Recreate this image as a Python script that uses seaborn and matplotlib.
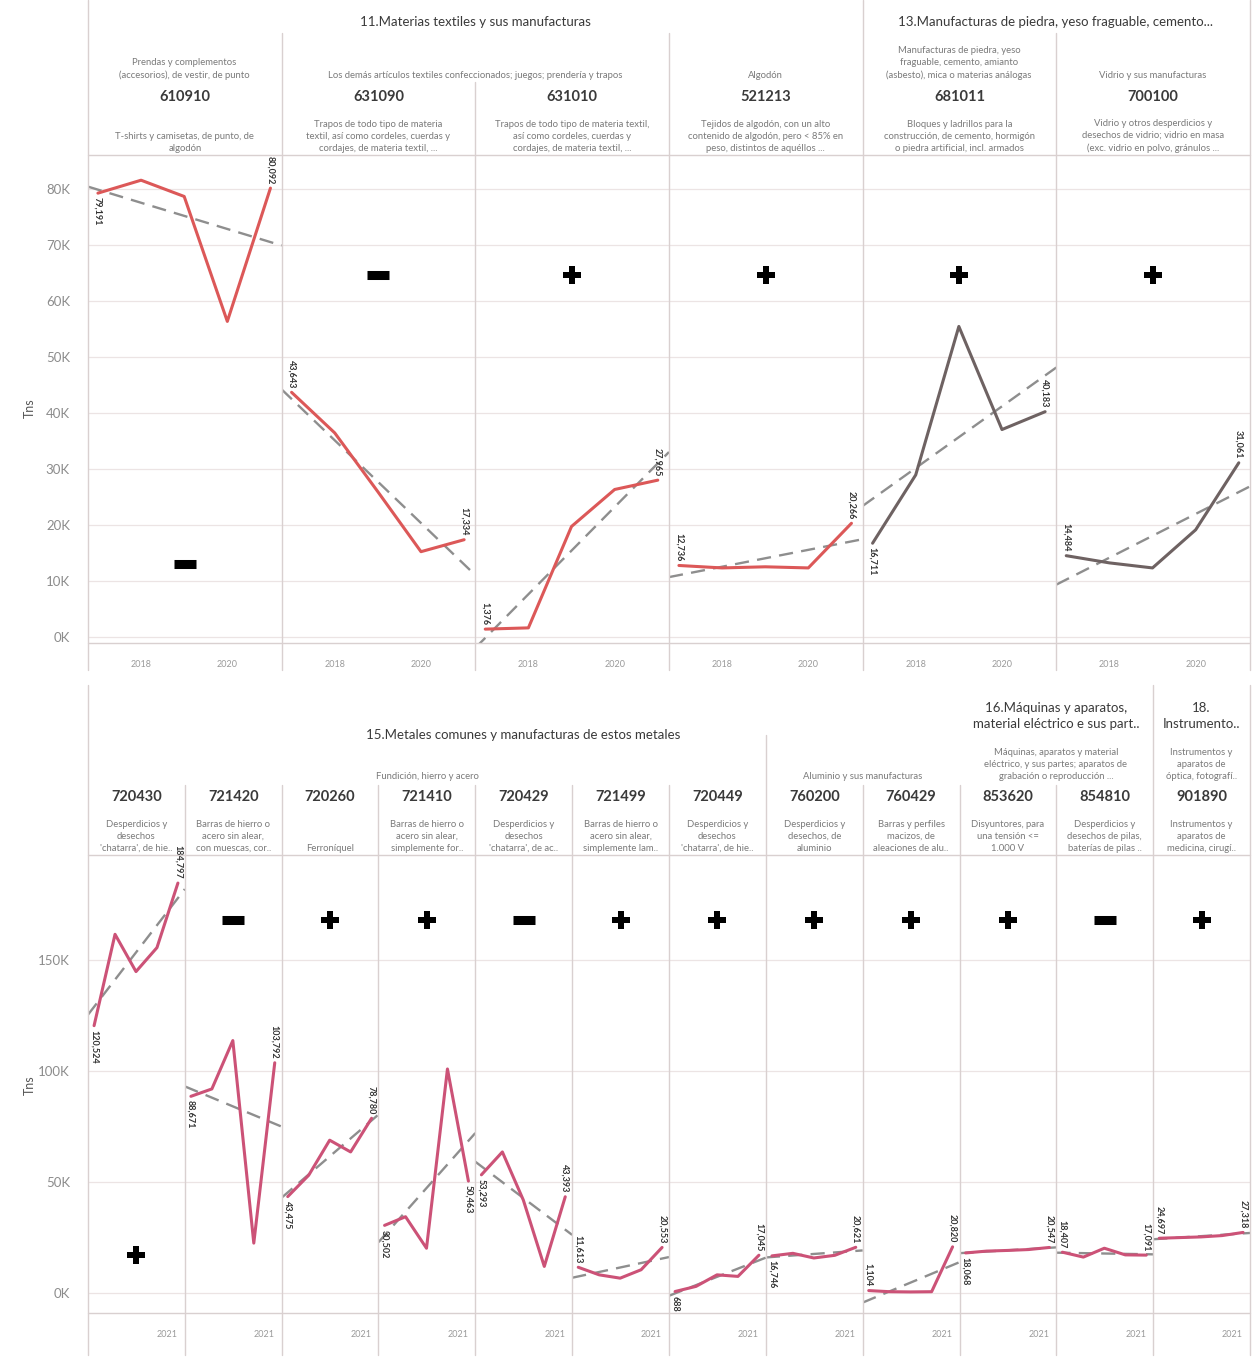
import matplotlib
matplotlib.use('Agg')
import matplotlib.pyplot as plt
from matplotlib.ticker import FuncFormatter
import seaborn as sns
import numpy as np
import pandas as pd

sns.set_theme(style='white')
plt.rcParams['font.family'] = ['Lato', 'DejaVu Sans']

# ---------- datos ----------
years = [2017, 2018, 2019, 2020, 2021]

# fila superior
top_codes = ['610910', '631090', '631010', '521213', '681011', '700100']
top_desc = [
    'T-shirts y camisetas, de punto, de\nalgodón',
    'Trapos de todo tipo de materia\ntextil, así como cordeles, cuerdas y\ncordajes, de materia textil, ...',
    'Trapos de todo tipo de materia textil,\nasí como cordeles, cuerdas y\ncordajes, de materia textil, ...',
    'Tejidos de algodón, con un alto\ncontenido de algodón, pero < 85% en\npeso, distintos de aquéllos ...',
    'Bloques y ladrillos para la\nconstrucción, de cemento, hormigón\no piedra artificial, incl. armados',
    'Vidrio y otros desperdicios y\ndesechos de vidrio; vidrio en masa\n(exc. vidrio en polvo, gránulos ...',
]
v610910 = [79191, 81500, 78600, 56300, 80092]
v631090 = [43643, 36400, 25900, 15200, 17334]
v631010 = [1376, 1600, 19700, 26300, 27965]
v521213 = [12736, 12300, 12500, 12300, 20266]
v681011 = [16711, 28900, 55400, 37000, 40183]
v700100 = [14484, 13200, 12300, 19100, 31061]
top_series = [v610910, v631090, v631010, v521213, v681011, v700100]

top_categories = [('11.Materias textiles y sus manufacturas', 88, 862),
                  ('13.Manufacturas de piedra, yeso fraguable, cemento...', 862, 1250)]
top_subcats = [('Prendas y complementos\n(accesorios), de vestir, de punto', 88, 281),
               ('Los demás artículos textiles confeccionados; juegos; prendería y trapos', 281, 669),
               ('Algodón', 669, 862),
               ('Manufacturas de piedra, yeso\nfraguable, cemento, amianto\n(asbesto), mica o materias análogas', 862, 1056),
               ('Vidrio y sus manufacturas', 1056, 1250)]

# fila inferior
bot_codes = ['720430', '721420', '720260', '721410', '720429', '721499',
             '720449', '760200', '760429', '853620', '854810', '901890']
bot_desc = [
    "Desperdicios y\ndesechos\n'chatarra', de hie..",
    'Barras de hierro o\nacero sin alear,\ncon muescas, cor..',
    'Ferroníquel',
    'Barras de hierro o\nacero sin alear,\nsimplemente for..',
    "Desperdicios y\ndesechos\n'chatarra', de ac..",
    'Barras de hierro o\nacero sin alear,\nsimplemente lam..',
    "Desperdicios y\ndesechos\n'chatarra', de hie..",
    'Desperdicios y\ndesechos, de\naluminio',
    'Barras y perfiles\nmacizos, de\naleaciones de alu..',
    'Disyuntores, para\nuna tensión <=\n1.000 V',
    'Desperdicios y\ndesechos de pilas,\nbaterías de pilas ..',
    'Instrumentos y\naparatos de\nmedicina, cirugí..',
]
v720430 = [120524, 161700, 144900, 155700, 184797]
v721420 = [88671, 92000, 113800, 22500, 103792]
v720260 = [43475, 53100, 68900, 63600, 78780]
v721410 = [30502, 34400, 20200, 101000, 50463]
v720429 = [53293, 63600, 41900, 12000, 43393]
v721499 = [11613, 8200, 6700, 10500, 20553]
v720449 = [688, 3000, 8200, 7500, 17045]
v760200 = [16746, 17900, 15800, 17000, 20621]
v760429 = [1104, 600, 500, 600, 20820]
v853620 = [18068, 18900, 19200, 19600, 20547]
v854810 = [18407, 16200, 20200, 17200, 17091]
v901890 = [24697, 25000, 25300, 25900, 27318]
bot_series = [v720430, v721420, v720260, v721410, v720429, v721499,
              v720449, v760200, v760429, v853620, v854810, v901890]

bot_categories = [('15.Metales comunes y manufacturas de estos metales', 88, 959, 735),
                  ('16.Máquinas y aparatos,\nmaterial eléctrico e sus part..', 959, 1153, 716),
                  ('18.\nInstrumento..', 1153, 1250, 716)]
bot_subcats = [('Fundición, hierro y acero', 88, 766),
               ('Aluminio y sus manufacturas', 766, 959),
               ('Máquinas, aparatos y material\neléctrico, y sus partes; aparatos de\ngrabación o reproducción ...', 959, 1153),
               ('Instrumentos y\naparatos de\nóptica, fotografí..', 1153, 1250)]

# ---------- estilo / posiciones ----------
top_first_below = [True, False, False, False, True, False]
top_last_below = [False] * 6
top_sign_y = [13000, 64500, 64500, 64500, 64500, 64500]
top_colors = ['#dc5858'] * 4 + ['#6e6262'] * 2

bot_first_below = [True, True, True, True, True, False, True, True, False, True, False, False]
bot_last_below = [False, False, False, True, False, False, False, False, False, False, False, False]
bot_sign_y = [17000] + [168000] * 11
bot_colors = ['#cc5277'] * 12

W, H = 1254, 1361
GRID = '#ece4e4'
SEP = '#d9d0d0'
fig = plt.figure(figsize=(W / 100, H / 100), dpi=100)
fig.patch.set_facecolor('white')


def px_rect(x0, y0, x1, y1):
    return [x0 / W, 1 - y1 / H, (x1 - x0) / W, (y1 - y0) / H]


def fig_line(x0, y0, x1, y1, color=SEP, lw=1.0):
    fig.add_artist(plt.Line2D([x0 / W, x1 / W], [1 - y0 / H, 1 - y1 / H], color=color, lw=lw, zorder=5))


def fig_text(x, y, s, **kw):
    fig.text(x / W, 1 - y / H, s, ha='center', **kw)


kfmt = FuncFormatter(lambda v, p: f'{int(round(v / 1000))}K')


def draw_panel(ax, vals, color, xlim, ylim, yticks, xticks, first_below, last_below, sign_y, show_y, right_xlabel):
    df = pd.DataFrame({'Año': years, 'Tns': vals})
    ax.set_xlim(xlim)
    ax.set_ylim(ylim)
    sns.regplot(data=df, x='Año', y='Tns', ax=ax, scatter=False, ci=None, truncate=False,
                line_kws=dict(color='#8e8e8e', lw=1.7, ls=(0, (6, 3.5)), zorder=2))
    sns.lineplot(data=df, x='Año', y='Tns', ax=ax, color=color, lw=2.2, zorder=3)
    ax.set_xlim(xlim)
    ax.set_ylim(ylim)
    ax.set_xlabel('')
    ax.set_ylabel('')
    for s in ax.spines.values():
        s.set_visible(False)
    ax.set_yticks(yticks)
    ax.yaxis.set_major_formatter(kfmt)
    ax.grid(True, axis='y', color=GRID, lw=0.9)
    ax.grid(False, axis='x')
    ax.tick_params(axis='y', left=False, labelleft=show_y, labelsize=9.5, labelcolor='#8c8c8c', pad=7)
    ax.set_xticks(xticks)
    ax.set_xticklabels([str(t) for t in xticks])
    ax.tick_params(axis='x', bottom=False, labelsize=6.5, labelcolor='#9a9a9a', pad=6)
    if right_xlabel:
        for lab in ax.get_xticklabels():
            lab.set_ha('right')

    # etiquetas de inicio y fin
    for x, v, below in [(years[0], vals[0], first_below), (years[-1], vals[-1], last_below)]:
        ax.annotate(f'{v:,}', (x, v), xytext=(0, -3 if below else 3), textcoords='offset points',
                    rotation=270, ha='center', va='top' if below else 'bottom',
                    fontsize=6.5, color='#333333', fontweight='bold', zorder=4)

    # signo de la tendencia
    slope = np.polyfit(years, vals, 1)[0]
    xc = sum(xlim) / 2
    if slope > 0:
        ax.plot(xc, sign_y, marker='P', ms=13, color='black', mew=0, zorder=4)
    else:
        ax.plot(xc, sign_y, marker='_', ms=16, mew=6.5, color='black', zorder=4)


# ---------- fila superior ----------
top_edges = np.linspace(88, 1250, 7)
for i in range(6):
    ax = fig.add_axes(px_rect(top_edges[i], 155, top_edges[i + 1], 643))
    draw_panel(ax, top_series[i], top_colors[i], (2016.77, 2021.26), (-1100, 86000),
               np.arange(0, 80001, 10000), [2018, 2020], top_first_below[i], top_last_below[i],
               top_sign_y[i], i == 0, False)
    xc = (top_edges[i] + top_edges[i + 1]) / 2
    fig_text(xc, 97, top_codes[i], va='center', fontsize=10.5, fontweight='bold', color='#3a3a3a')
    fig_text(xc, 153, top_desc[i], va='bottom', fontsize=6.8, color='#7a7a7a', linespacing=1.45)

for txt, x0, x1 in top_categories:
    fig_text((x0 + x1) / 2, 22, txt, va='center', fontsize=9.5, color='#3a3a3a')
for txt, x0, x1 in top_subcats:
    fig_text((x0 + x1) / 2, 80, txt, va='bottom', fontsize=6.8, color='#7a7a7a', linespacing=1.45)

for x, y0 in zip(top_edges, [0, 33, 82, 33, 0, 33, 0]):
    fig_line(x, y0, x, 670)
fig_line(88, 155, 1250, 155)
fig_line(88, 643, 1250, 643)
fig_text(30, 408, 'Tns', va='center', rotation=90, fontsize=9, color='#555555')

# ---------- fila inferior ----------
bot_edges = np.linspace(88, 1250, 13)
for i in range(12):
    ax = fig.add_axes(px_rect(bot_edges[i], 856, bot_edges[i + 1], 1313))
    draw_panel(ax, bot_series[i], bot_colors[i], (2016.71, 2021.33), (-9000, 197000),
               [0, 50000, 100000, 150000], [2021], bot_first_below[i], bot_last_below[i],
               bot_sign_y[i], i == 0, True)
    xc = (bot_edges[i] + bot_edges[i + 1]) / 2
    fig_text(xc, 797, bot_codes[i], va='center', fontsize=10.5, fontweight='bold', color='#3a3a3a')
    fig_text(xc, 853, bot_desc[i], va='bottom', fontsize=6.8, color='#7a7a7a', linespacing=1.45)

for txt, x0, x1, y in bot_categories:
    fig_text((x0 + x1) / 2, y, txt, va='center', fontsize=9.5, color='#3a3a3a', linespacing=1.3)
for txt, x0, x1 in bot_subcats:
    fig_text((x0 + x1) / 2, 781, txt, va='bottom', fontsize=6.8, color='#7a7a7a', linespacing=1.45)

bot_starts = {88: 685, 766: 735, 959: 685, 1153: 685, 1250: 685}
for x in bot_edges:
    fig_line(x, bot_starts.get(int(round(x)), 785), x, 1355)
fig_line(88, 855, 1250, 855)
fig_line(88, 1313, 1250, 1313)
fig_text(30, 1085, 'Tns', va='center', rotation=90, fontsize=9, color='#555555')

fig.savefig('out.png', dpi=100, facecolor='white')
